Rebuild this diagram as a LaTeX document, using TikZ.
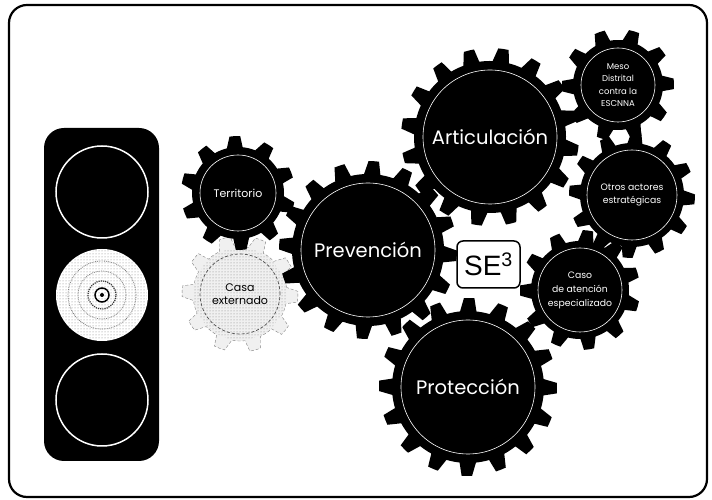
\documentclass[tikz,border=0pt]{standalone}
\usepackage{fontspec}
\setmainfont{Poppins}
\newfontfamily\sefont{Liberation Sans}
\usepackage{xcolor}
\usepackage{tikz}
\usetikzlibrary{patterns}
\tikzset{
  biglabel/.style={text=white,font=\fontsize{19.5}{21}\selectfont},
  smalllabel/.style={text=white,align=center,font=\fontsize{11}{13}\selectfont},
  tinylabel/.style={text=white,align=center,font=\fontsize{8.5}{12.5}\selectfont},
}
% gear: [style]{centre}{teeth}{root radius}{tip radius}{turn}
\newcommand{\gear}[6][fill=black]{%
  \begin{scope}[shift={#2},rotate=#6]
    \pgfmathsetmacro{\gs}{360/#3}
    \path[#1] (0:#4) \foreach \k in {1,...,#3}{
      arc[start angle={(\k-1)*\gs}, delta angle={0.45*\gs}, radius=#4]
      -- ({(\k-1)*\gs+0.55*\gs}:#5)
      arc[start angle={(\k-1)*\gs+0.55*\gs}, delta angle={0.3*\gs}, radius=#5]
      -- ({\k*\gs}:#4)
    } -- cycle;
  \end{scope}}
\newcommand{\rim}[2]{\draw[white,line width=0.6pt] #1 circle (#2);}
\newcommand{\lamp}[1]{\filldraw[fill=black,draw=white,line width=1.5pt] #1 circle (46);}

\begin{document}
\begin{tikzpicture}[x=1pt,y=1pt]
\useasboundingbox (0,0) rectangle (712,500);
\draw[line width=2.2pt,rounded corners=18] (9,3) rectangle (707,495);
% traffic light
\fill[black,rounded corners=20] (44,39) rectangle (159,372);
\lamp{(102,308)} \lamp{(102,100)}
\fill[white] (102,205) circle (46);
\fill[pattern=dots,pattern color=gray] (102,205) circle (45);
\draw[gray,densely dotted,line width=0.8pt] (102,205) circle (34);
\draw[gray,densely dotted,line width=0.8pt] (102,205) circle (24);
\draw[black!80,densely dotted,line width=1.2pt] (102,205) circle (14);
\draw[black,line width=1.5pt] (102,205) circle (7);
\fill[black] (102,205) circle (2);
% faded gear
\gear[fill=gray!12,draw=gray,densely dashed]{(240,206)}{10}{47}{58}{8}
\fill[pattern=dots,pattern color=gray] (240,206) circle (46);
\draw[black!70,densely dashed,line width=0.7pt] (240,206) circle (40);
% gears
\gear{(238,307)}{10}{46}{57}{-4} \rim{(238,307)}{38}
\gear{(368,250)}{16}{76}{89}{3} \rim{(368,250)}{67}
\gear{(490,363)}{16}{76}{89}{-2} \rim{(490,363)}{67}
\gear{(468,113)}{16}{76}{89}{6} \rim{(468,113)}{67}
\gear{(618,415)}{10}{45}{56}{12} \rim{(618,415)}{37}
\gear{(632,305)}{12}{52}{63}{5} \rim{(632,305)}{45}
\gear{(580,210)}{11}{49}{60}{-6} \rim{(580,210)}{42}
% labels
\node[smalllabel] (terr) at (238,307) {Territorio};
\node[smalllabel,text=black] (casa) at (240,206) {Casa\\externado};
\node[biglabel] (prev) at (368,250) {Prevención};
\node[biglabel] (artic) at (490,363) {Articulación};
\node[biglabel] (prot) at (468,113) {Protección};
\node[tinylabel] (meso) at (618,415) {Meso\\Distrital\\contra la\\ESCNNA};
\node[tinylabel,font=\fontsize{9.3}{13}\selectfont] (otros) at (632,305) {Otros actores\\estratégicas};
\node[tinylabel,font=\fontsize{9.3}{14}\selectfont] (caso) at (580,210) {Caso\\de atención\\especializado};
\node[draw,fill=white,line width=1.5pt,rounded corners=6,minimum width=63,minimum height=47,
  inner sep=0pt,font=\sefont\fontsize{28}{30}\selectfont] (se) at (488.5,235.5) {SE\textsuperscript{3}};
\end{tikzpicture}
\end{document}
